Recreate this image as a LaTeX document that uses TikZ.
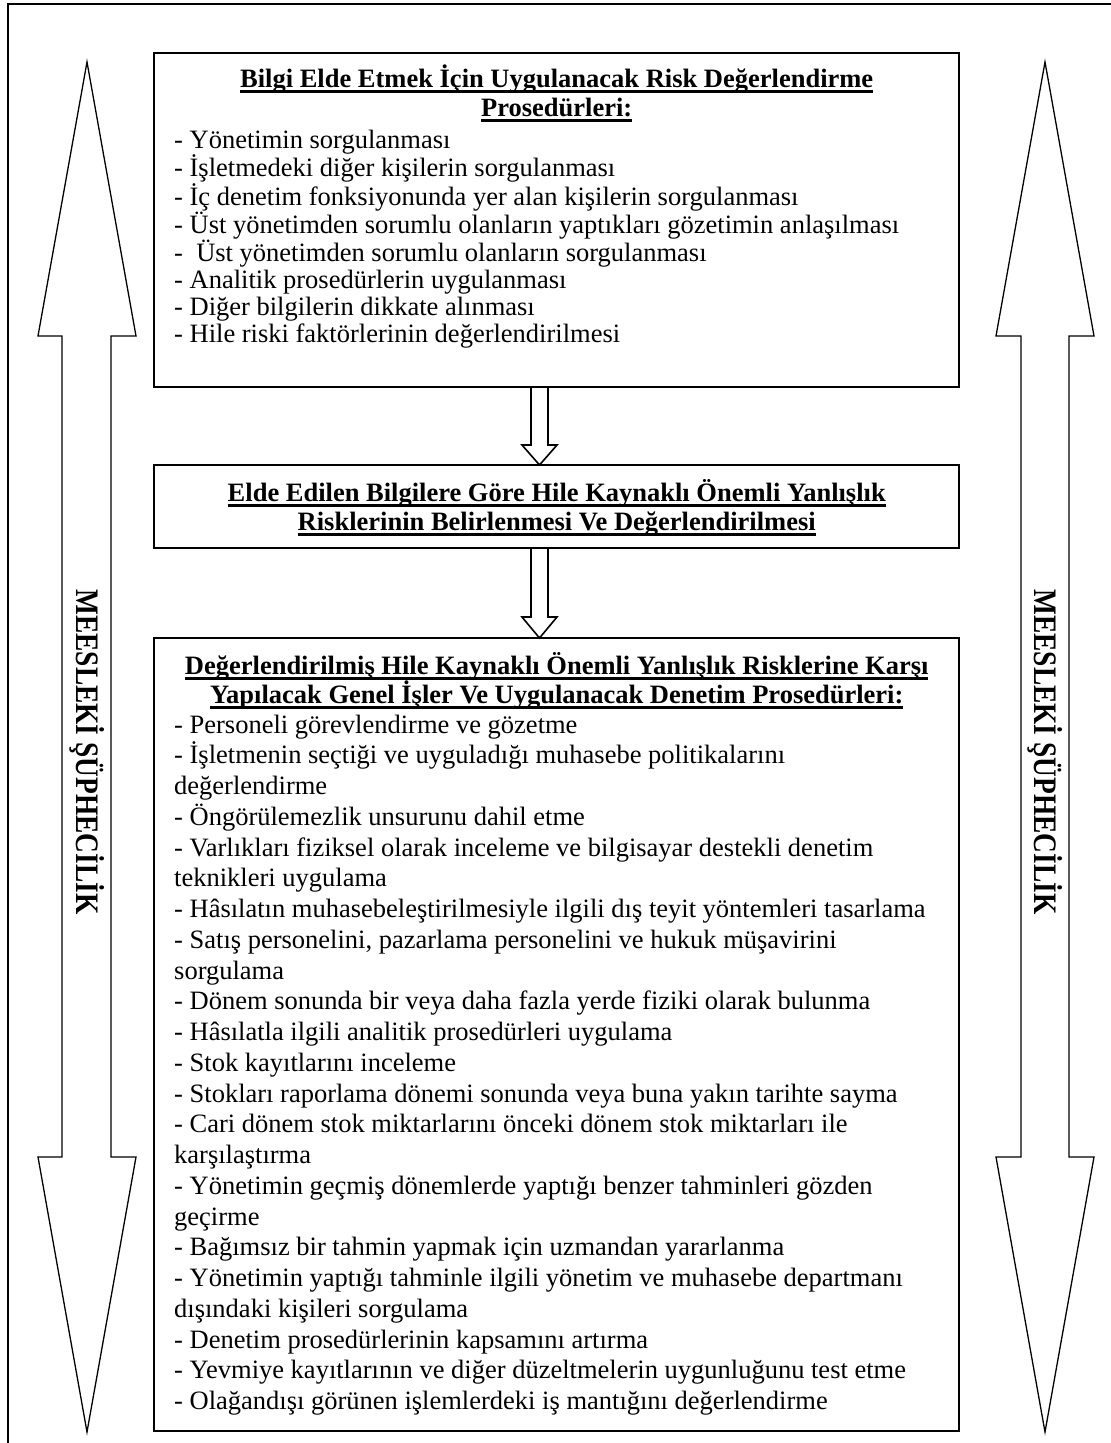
\documentclass[tikz,border=0pt]{standalone}
\usepackage{fontspec}
\usepackage{graphicx}
\setmainfont{Liberation Serif}
\usetikzlibrary{calc}

% heavy underline for the box headings
\newcommand{\hdline}[1]{\leavevmode\setbox0=\hbox{#1}\rlap{\rule[-5.8pt]{\wd0}{2.7pt}}\box0}

\begin{document}
\begin{tikzpicture}[x=1pt,y=-1pt,
  frame/.style={line width=1.3pt},
  box/.style={draw, line width=2pt, inner sep=0pt, outer sep=0pt, anchor=north west, minimum width=805pt},
  bigarrow/.style={line width=1.3pt, line join=miter},
  flowarrow/.style={line width=1.6pt, line join=miter},
  txt/.style={inner sep=0pt, anchor=base west, font=\fontsize{26.5}{29}\selectfont},
  vlabel/.style={inner sep=0pt, rotate=-90, font=\fontsize{32.8}{33}\selectfont\bfseries}]
\useasboundingbox (0,0) rectangle (1111,1443);
\fill[white] (0,0) rectangle (1111,1443);

% page frame (top and left edges)
\draw[frame] (1111,4) -- (8,4) -- (8,1443);

% professional scepticism arrows on both sides
\draw[bigarrow] (87,62) -- (136,336) -- (111,336) -- (111,1157) -- (136,1157) -- (87,1432)
  -- (38,1157) -- (62,1157) -- (62,336) -- (38,336) -- cycle;
\draw[bigarrow] (1045,62) -- (1094,336) -- (1069,336) -- (1069,1157) -- (1094,1157) -- (1045,1432)
  -- (996,1157) -- (1021,1157) -- (1021,336) -- (996,336) -- cycle;
\node[vlabel] (skepL) at (87,752) {\scalebox{0.835}[1]{MEESLEKİ ŞÜPHECİLİK}};
\node[vlabel] (skepR) at (1045,752) {\scalebox{0.835}[1]{MEESLEKİ ŞÜPHECİLİK}};

% the three stages
\node[box, minimum height=334pt] (obtain) at (154,53) {};
\node[box, minimum height=83pt] (identify) at (154,465) {};
\node[box, minimum height=793pt] (respond) at (154,638) {};

\node[txt] (obtainhead) at (154,87) {\parbox[t]{805pt}{\centering\bfseries
  \hdline{Bilgi Elde Etmek İçin Uygulanacak Risk Değerlendirme}\\
  \hdline{Prosedürleri:}}};
\node[txt] (obtainlist) at (174,148) {\parbox[t]{780pt}{\fontsize{26.5}{27}\selectfont\raggedright
  - Yönetimin sorgulanması\\
  - İşletmedeki diğer kişilerin sorgulanması\\
  - İç denetim fonksiyonunda yer alan kişilerin sorgulanması\\
  - Üst yönetimden sorumlu olanların yaptıkları gözetimin anlaşılması\\
  -\ \ Üst yönetimden sorumlu olanların sorgulanması\\
  - Analitik prosedürlerin uygulanması\\
  - Diğer bilgilerin dikkate alınması\\
  - Hile riski faktörlerinin değerlendirilmesi}};

\node[txt] (identifyhead) at (154,501) {\parbox[t]{805pt}{\centering\bfseries
  \hdline{Elde Edilen Bilgilere Göre Hile Kaynaklı Önemli Yanlışlık}\\
  \hdline{Risklerinin Belirlenmesi Ve Değerlendirilmesi}}};

\node[txt] (respondhead) at (154,674) {\parbox[t]{805pt}{\centering\bfseries
  \hdline{Değerlendirilmiş Hile Kaynaklı Önemli Yanlışlık Risklerine Karşı}\\
  \hdline{Yapılacak Genel İşler Ve Uygulanacak Denetim Prosedürleri:}}};
\node[txt] (respondlist) at (174,733) {\parbox[t]{780pt}{\fontsize{26.5}{30.75}\selectfont\raggedright
  - Personeli görevlendirme ve gözetme\\
  - İşletmenin seçtiği ve uyguladığı muhasebe politikalarını\\
  değerlendirme\\
  - Öngörülemezlik unsurunu dahil etme\\
  - Varlıkları fiziksel olarak inceleme ve bilgisayar destekli denetim\\
  teknikleri uygulama\\
  - Hâsılatın muhasebeleştirilmesiyle ilgili dış teyit yöntemleri tasarlama\\
  - Satış personelini, pazarlama personelini ve hukuk müşavirini\\
  sorgulama\\
  - Dönem sonunda bir veya daha fazla yerde fiziki olarak bulunma\\
  - Hâsılatla ilgili analitik prosedürleri uygulama\\
  - Stok kayıtlarını inceleme\\
  - Stokları raporlama dönemi sonunda veya buna yakın tarihte sayma\\
  - Cari dönem stok miktarlarını önceki dönem stok miktarları ile\\
  karşılaştırma\\
  - Yönetimin geçmiş dönemlerde yaptığı benzer tahminleri gözden\\
  geçirme\\
  - Bağımsız bir tahmin yapmak için uzmandan yararlanma\\
  - Yönetimin yaptığı tahminle ilgili yönetim ve muhasebe departmanı\\
  dışındaki kişileri sorgulama\\
  - Denetim prosedürlerinin kapsamını artırma\\
  - Yevmiye kayıtlarının ve diğer düzeltmelerin uygunluğunu test etme\\
  - Olağandışı görünen işlemlerdeki iş mantığını değerlendirme}};

% hollow block arrows between the stages
\coordinate (s1) at ($(obtain.south)+(-17,0)$);
\coordinate (t1) at ($(identify.north)+(-17,0)$);
\draw[flowarrow] ($(s1)+(-8.5,0)$) -- ($(t1)+(-8.5,-20)$) -- ($(t1)+(-17.5,-20)$) -- (t1)
  -- ($(t1)+(17.5,-20)$) -- ($(t1)+(8.5,-20)$) -- ($(s1)+(8.5,0)$);
\coordinate (s2) at ($(identify.south)+(-17,0)$);
\coordinate (t2) at ($(respond.north)+(-17,0)$);
\draw[flowarrow] ($(s2)+(-8.5,0)$) -- ($(t2)+(-8.5,-21)$) -- ($(t2)+(-17.5,-21)$) -- (t2)
  -- ($(t2)+(17.5,-21)$) -- ($(t2)+(8.5,-21)$) -- ($(s2)+(8.5,0)$);
\end{tikzpicture}
\end{document}
